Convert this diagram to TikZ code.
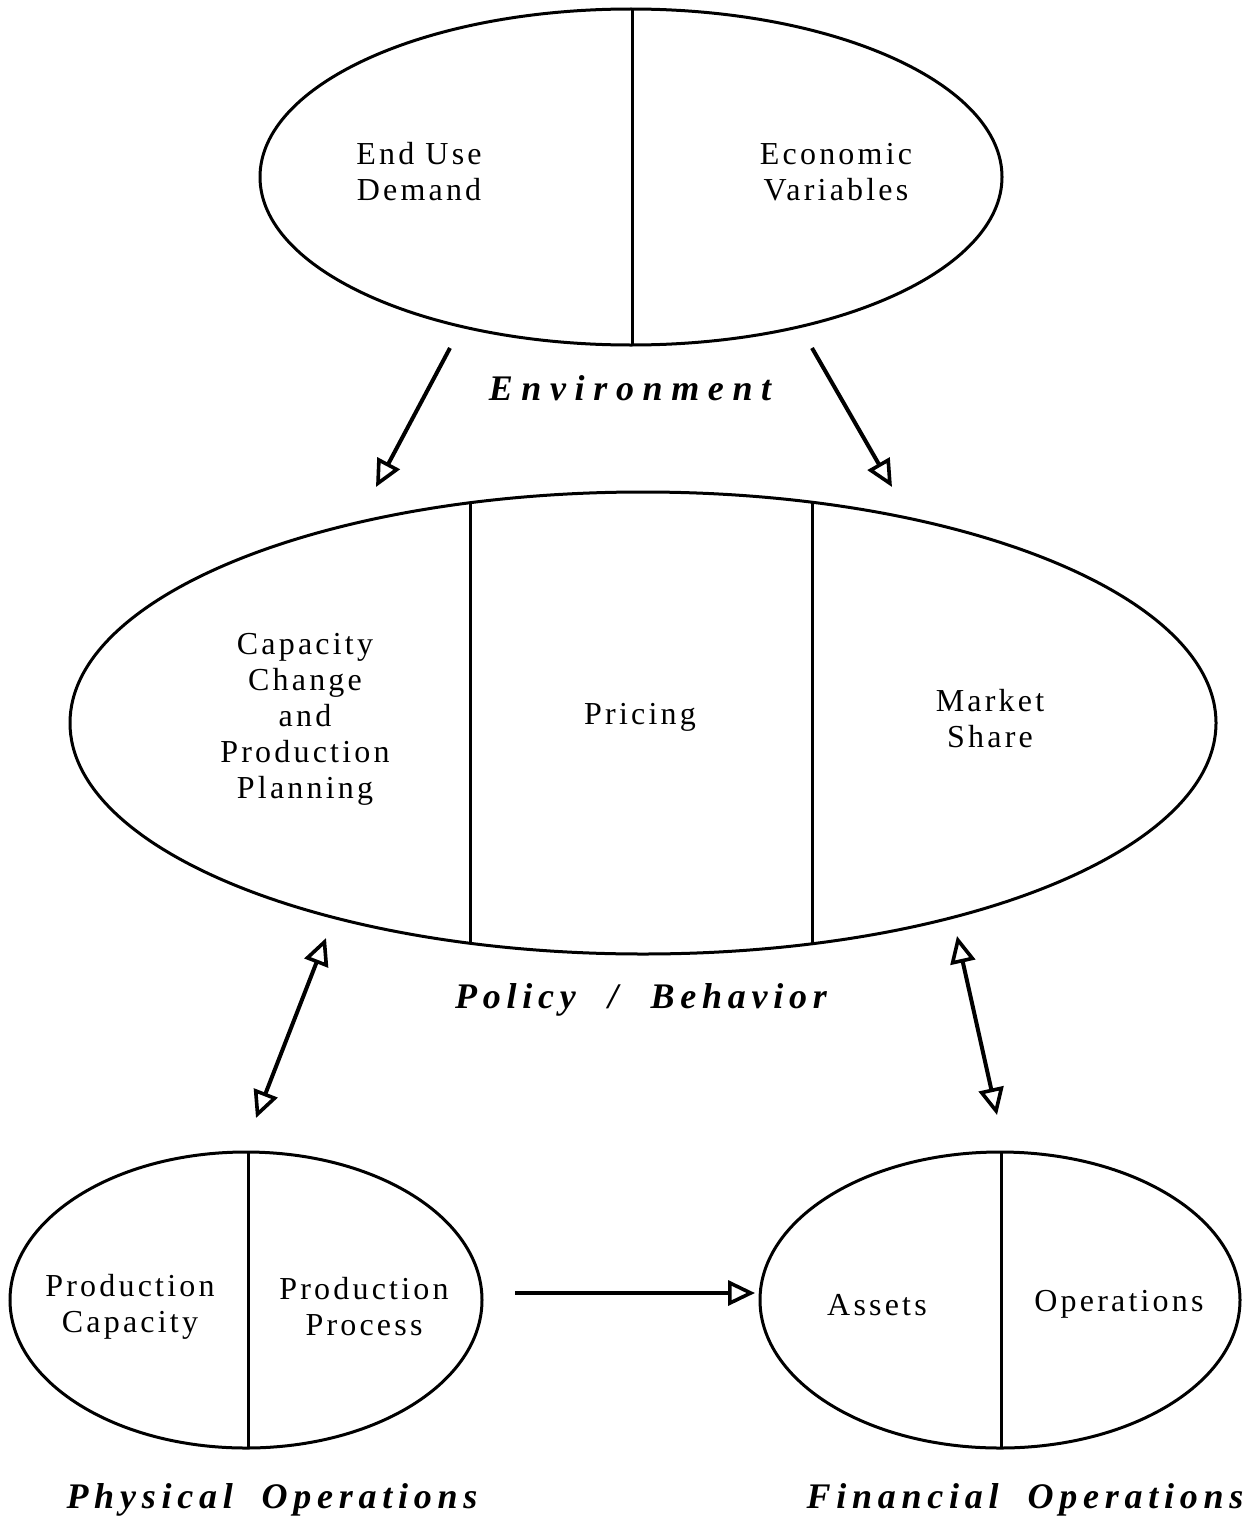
\documentclass[tikz,border=0pt]{standalone}
\usepackage{fontspec}
\setmainfont{Liberation Serif}
\newfontfamily\labfont[LetterSpace=10]{Liberation Serif}
\newfontfamily\titfont[LetterSpace=16]{Liberation Serif}
\newfontfamily\envfont[LetterSpace=24]{Liberation Serif}
\usetikzlibrary{arrows.meta}
\begin{document}
\begin{tikzpicture}[x=1pt,y=-1pt,
  shape line/.style={line width=3pt},
  lab/.style={align=center,font=\fontsize{32}{36}\selectfont\labfont,inner sep=0pt},
  tit/.style={font=\fontsize{36}{40}\selectfont\titfont\bfseries\itshape,inner sep=0pt},
  envtit/.style={font=\fontsize{36}{40}\selectfont\envfont\bfseries\itshape,inner sep=0pt},
  otip/.tip={Triangle[open,length=27pt,width=25pt,line width=3.6pt]},
  conn/.style={line width=4pt,-{otip}},
  dconn/.style={line width=4pt,{otip}-{otip}}]
\useasboundingbox (0,0) rectangle (1253,1520);
% ellipses
\draw[shape line] (631,177) ellipse [x radius=371, y radius=168];
\draw[shape line] (632,10) -- (632,344);
\draw[shape line] (643,723) ellipse [x radius=573, y radius=231];
\draw[shape line] (470,503) -- (470,943);
\draw[shape line] (812,502) -- (812,944);
\draw[shape line] (246,1300) ellipse [x radius=236, y radius=148];
\draw[shape line] (248,1153) -- (248,1447);
\draw[shape line] (1000,1300) ellipse [x radius=240, y radius=148];
\draw[shape line] (1001,1153) -- (1001,1447);
% labels
\node[lab] (eud) at (419,172) {End Use\\Demand};
\node[lab] (ecv) at (836,172) {Economic\\Variables};
\node[envtit] (env) at (630,388) {Environment};
\node[lab] (cap) at (305,719) {Capacity\\Change\\and\\Production\\Planning};
\node[lab] (pri) at (640,717) {Pricing};
\node[lab] (mks) at (990,719) {Market\\Share};
\node[tit] (pol) at (641,1000) {Policy\hspace{0.9em}/\hspace{0.9em}Behavior};
\node[lab] (pca) at (130,1307) {Production\\Capacity};
\node[lab] (ppr) at (364,1307) {Production\\Process};
\node[lab] (ast) at (877,1305) {Assets};
\node[lab] (opr) at (1119,1304) {Operations};
\node[tit] (phy) at (272,1500) {Physical\hspace{0.8em}Operations};
\node[tit] (fin) at (1025,1500) {Financial\hspace{0.8em}Operations};
% connector ends
\coordinate (a1) at (450,348); \coordinate (a2) at (376,487);
\coordinate (b1) at (812,348); \coordinate (b2) at (892,487);
\coordinate (c1) at (326,938); \coordinate (c2) at (256,1118);
\coordinate (d1) at (957,936); \coordinate (d2) at (997,1115);
\coordinate (e1) at (515,1293); \coordinate (e2) at (755,1293);
\draw[conn] (a1) -- (a2);
\draw[conn] (b1) -- (b2);
\draw[dconn] (c1) -- (c2);
\draw[dconn] (d1) -- (d2);
\draw[conn] (e1) -- (e2);
\end{tikzpicture}
\end{document}
